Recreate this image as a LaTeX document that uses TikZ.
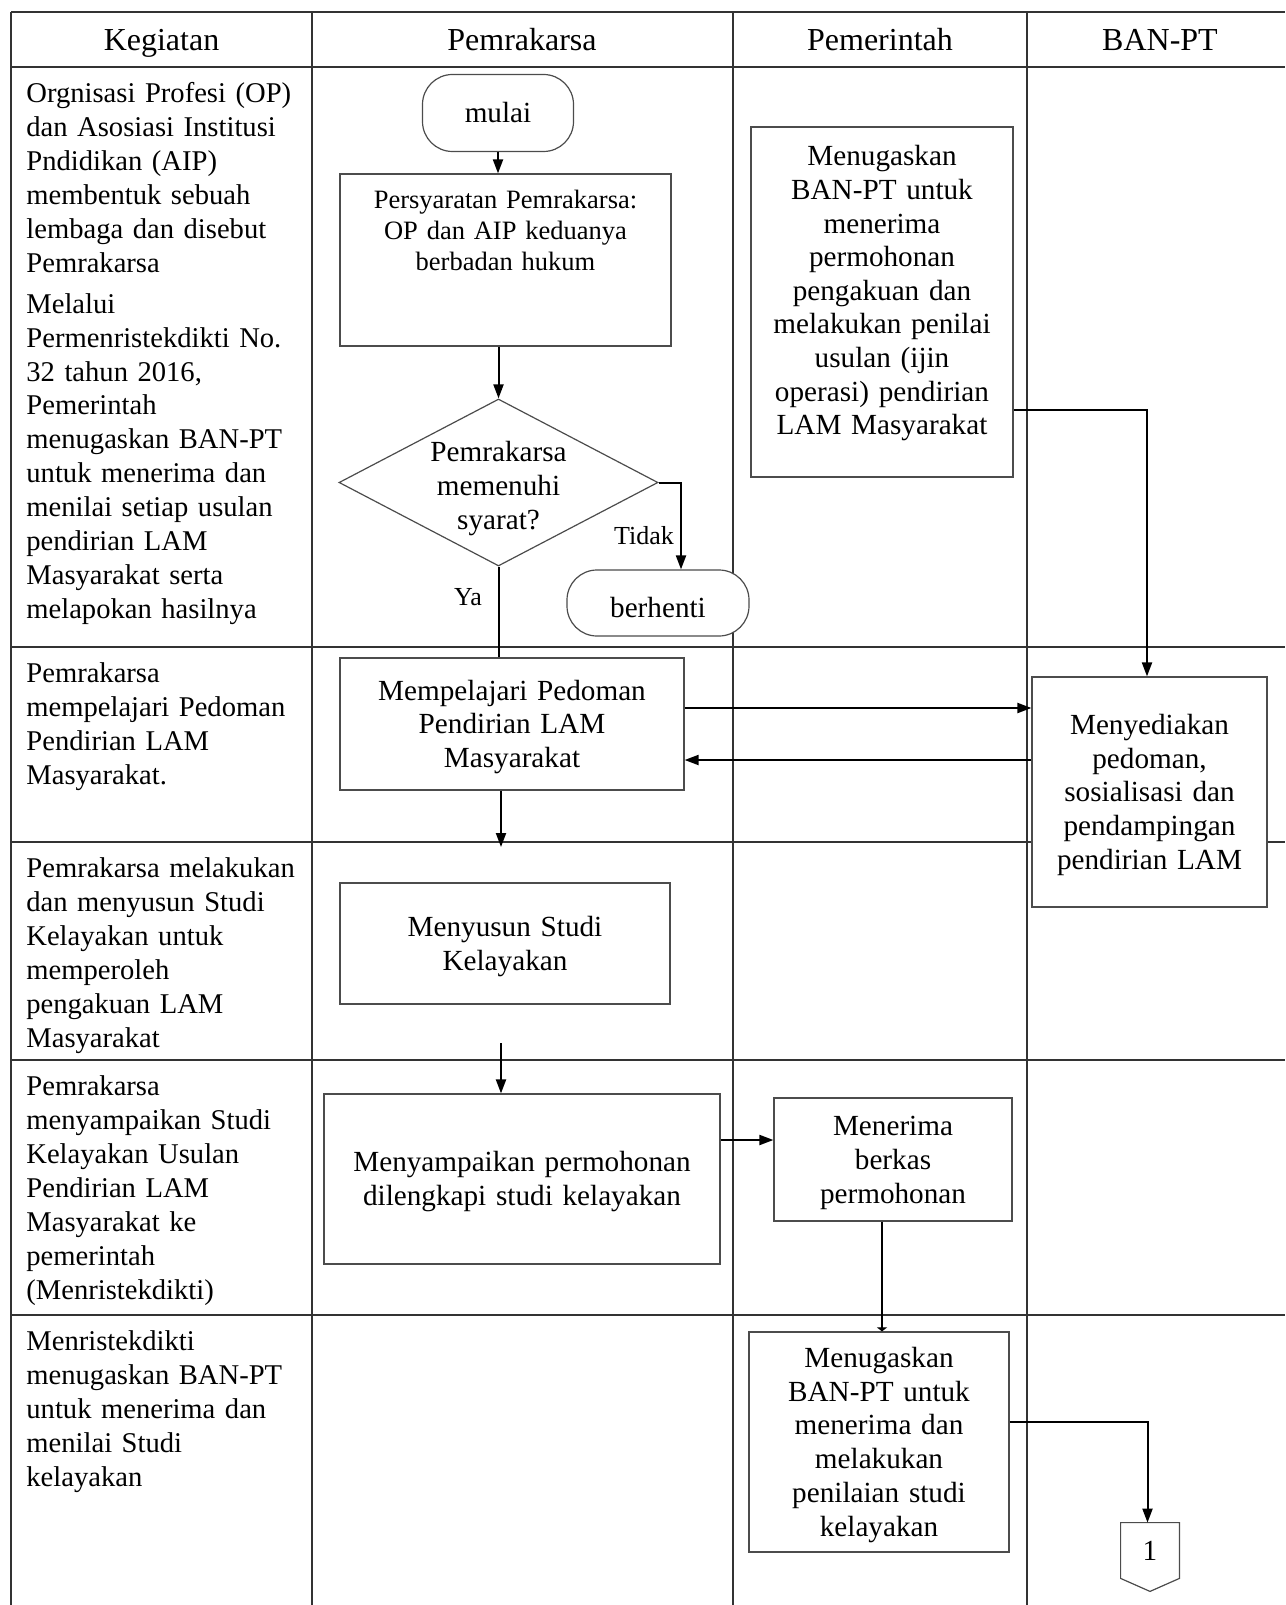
\documentclass[tikz,border=0pt]{standalone}
\usepackage{fontspec}
\setmainfont{Liberation Serif}
\usetikzlibrary{shapes.geometric, arrows.meta}
\tikzset{ wline/.style = { execute at begin node = \rule{0pt}{0.891em}
                        , execute at end node   = \rule[-0.216em]{0pt}{0pt}
                        },
          pbox/.style = { rectangle
                       , draw          = black!70
                       , fill          = white
                       , line width    = 0.6pt
                       , inner sep     = 0pt
                       , minimum width = #1
                       , text width    = #1
                       , align         = center
                       , font          = \fontsize{14.6}{16.9}\selectfont
                       , wline
                       },
          term/.style = { rectangle
                       , draw         = black!70
                       , fill         = white
                       , line width   = 0.6pt
                       , inner sep    = 0pt
                       , rounded corners = 15pt
                       , font         = \fontsize{14.6}{16.9}\selectfont
                       },
          cond/.style = { diamond
                       , draw         = black!70
                       , fill         = white
                       , line width   = 0.6pt
                       , inner sep    = 0pt
                       },
          lane/.style = { anchor       = north west
                       , inner sep    = 0pt
                       , text width   = 143pt
                       , align        = left
                       , font         = \fontsize{14.3}{16.95}\selectfont
                       , wline
                       },
          head/.style = { anchor = base, font = \fontsize{16}{18}\selectfont },
          lbl/.style  = { inner sep = 0pt, font = \fontsize{13}{15}\selectfont },
          rule/.style = { line width = 0.9pt, black!80 },
          flow/.style = { line width = 1pt, -{Triangle[length=7pt, width=5pt]} }
        }
\begin{document}
\begin{tikzpicture}[x=0.5pt, y=-0.5pt]
  \useasboundingbox (0,0) rectangle (1285,1605);
  \foreach \y in {12,67,647,842,1060,1315} {
    \draw[rule] (11,\y) -- (1285,\y);
  }
  \foreach \x in {11,312,733,1027} {
    \draw[rule] (\x,12) -- (\x,1605);
  }
  \foreach \n/\x/\t in {keg/161.5/Kegiatan, pem/522/Pemrakarsa, gov/880/Pemerintah, ban/1160/BAN-PT} {
    \node[head] (h\n) at (\x,51) {\t};
  }

  \node[lane] (l1) at (26,77) {Orgnisasi Profesi (OP)\\dan Asosiasi Institusi\\Pndidikan (AIP)\\membentuk sebuah\\lembaga dan disebut\\Pemrakarsa\\[3.5pt]
    Melalui\\Permenristekdikti No.\\32 tahun 2016,\\Pemerintah\\menugaskan BAN-PT\\untuk menerima dan\\menilai setiap usulan\\pendirian LAM\\Masyarakat serta\\melapokan hasilnya};
  \node[lane] (l2) at (26,657) {Pemrakarsa\\mempelajari Pedoman\\Pendirian LAM\\Masyarakat.};
  \node[lane] (l3) at (26,852) {Pemrakarsa melakukan\\dan menyusun Studi\\Kelayakan untuk\\memperoleh\\pengakuan LAM\\Masyarakat};
  \node[lane] (l4) at (26,1070) {Pemrakarsa\\menyampaikan Studi\\Kelayakan Usulan\\Pendirian LAM\\Masyarakat ke\\pemerintah\\(Menristekdikti)};
  \node[lane] (l5) at (26,1325) {Menristekdikti\\menugaskan BAN-PT\\untuk menerima dan\\menilai Studi\\kelayakan};

  \node[term, minimum width=75.5pt, minimum height=38.5pt] (start) at (498,113) {mulai};
  \node[pbox=165.5pt, minimum height=86pt] (req) at (505.5,260) {};
  \node[anchor=north, inner sep=0pt, text width=160pt, align=center, font=\fontsize{13.25}{15.5}\selectfont, wline]
    (reqtext) at ([yshift=-5.7pt]req.north) {Persyaratan Pemrakarsa:\\OP dan AIP keduanya\\berbadan hukum};
  \node[cond, minimum width=159.5pt, minimum height=83.5pt] (dec) at (498.5,482.5) {};
  \node[inner sep=0pt, text width=90pt, align=center, font=\fontsize{14.6}{16.9}\selectfont, wline]
    (dectext) at ([yshift=-1.5pt]dec.center) {Pemrakarsa\\memenuhi\\syarat?};
  \node[term, minimum width=91pt, minimum height=33pt, text height=14pt, text depth=0pt] (halt) at (658,603) {berhenti};
  \node[lbl] (no) at (644,536) {Tidak};
  \node[lbl] (yes) at (468,597) {Ya};

  \node[pbox=131pt, minimum height=175pt] (assign) at (882,302) {};
  \node[anchor=north, inner sep=0pt, text width=128pt, align=center, font=\fontsize{14.6}{16.8}\selectfont, wline]
    (assigntext) at ([yshift=-6.5pt]assign.north) {Menugaskan\\BAN-PT untuk\\menerima\\permohonan\\pengakuan dan\\melakukan penilai\\usulan (ijin\\operasi) pendirian\\LAM Masyarakat};

  \node[pbox=172pt, minimum height=66pt] (study) at (512,724) {Mempelajari Pedoman\\Pendirian LAM\\Masyarakat};
  \node[pbox=117.5pt, minimum height=115pt] (provide) at (1149.5,792) {Menyediakan\\pedoman,\\sosialisasi dan\\pendampingan\\pendirian LAM};
  \node[pbox=165pt, minimum height=60.5pt] (draft) at (505,943.5) {Menyusun Studi\\Kelayakan};
  \node[pbox=198pt, minimum height=85pt] (submit) at (522,1179) {Menyampaikan permohonan\\dilengkapi studi kelayakan};
  \node[pbox=119pt, minimum height=61.5pt] (receive) at (893,1159.5) {Menerima\\berkas\\permohonan};
  \node[pbox=130pt, minimum height=110pt] (task) at (879,1442) {Menugaskan\\BAN-PT untuk\\menerima dan\\melakukan\\penilaian studi\\kelayakan};
  \node[inner sep=0pt, minimum width=29pt, minimum height=27.5pt, font=\fontsize{14.6}{16.9}\selectfont] (off) at (1150,1550.5) {1};
  \draw[black!70, line width=0.6pt] (off.south west) -- (off.north west) -- (off.north east)
    -- (off.south east) -- ([yshift=-6.5pt]off.south) -- cycle;

  \coordinate (gap1) at (501,847);
  \coordinate (gap2) at (501,1043);

  \draw[flow] (start.south) -- (start.south |- req.north);
  \draw[flow] (dec.north |- req.south) -- (dec.north);
  \draw[flow] (dec.east) -| ([xshift=11.5pt]halt.north);
  \draw[line width=1pt] (dec.south) -- (dec.south |- study.north);
  \draw[flow] ([yshift=-54pt]assign.east) -| ([xshift=-1.25pt]provide.north);
  \draw[flow] ([yshift=8pt]study.east) -- ([yshift=8pt]study.east -| provide.west);
  \draw[flow] ([yshift=-18pt]study.east -| provide.west) -- ([yshift=-18pt]study.east);
  \draw[flow] (study.south -| gap1) -- (gap1);
  \draw[flow] (gap2) -- (gap2 |- submit.north);
  \draw[flow] ([yshift=19.5pt]submit.east) -- ([yshift=19.5pt]submit.east -| receive.west);
  \draw[line width=1pt, -{Triangle[length=2pt, width=5pt]}] (receive.south -| 882,0) -- (task.north -| 882,0);
  \draw[flow] ([yshift=10pt]task.east) -| ([xshift=-1.25pt]off.north);
\end{tikzpicture}
\end{document}
